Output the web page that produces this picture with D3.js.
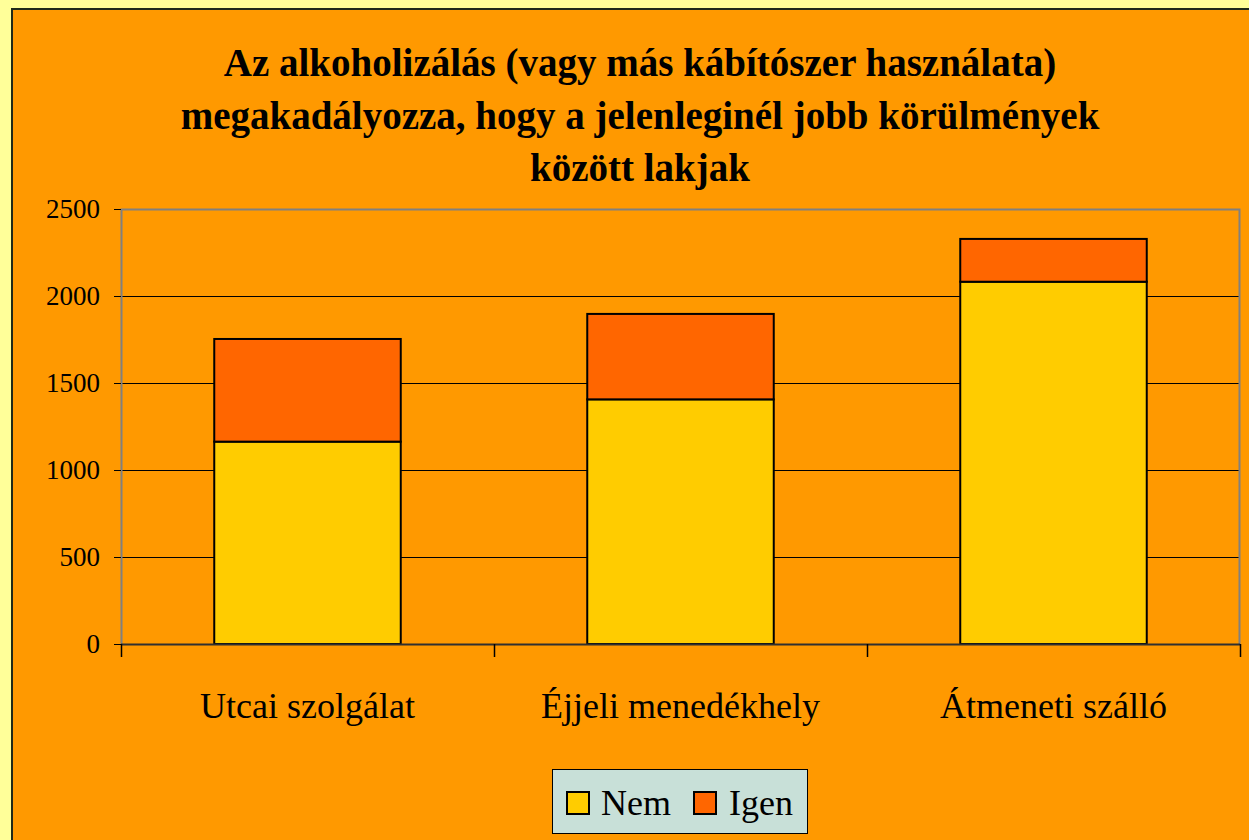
<!DOCTYPE html>
<html>
<head>
<meta charset="utf-8">
<script src="https://cdn.jsdelivr.net/npm/d3@7"></script>
<style>
html,body{margin:0;padding:0;background:#FFFF99;}
svg{display:block;}
</style>
</head>
<body>
<svg id="chart" width="1249" height="840"></svg>
<script>
const titleLines = [
  "Az alkoholizálás (vagy más kábítószer használata)",
  "megakadályozza, hogy a jelenleginél jobb körülmények",
  "között lakjak"
];
const categories = ["Utcai szolgálat", "Éjjeli menedékhely", "Átmeneti szálló"];
const seriesNames = ["Nem", "Igen"];
const nemValues = [1163, 1406, 2082];
const igenValues = [590, 491, 246];
const yTicks = [0, 500, 1000, 1500, 2000, 2500];
const colors = {"Nem": "#FFCC00", "Igen": "#FF6600"};

const svg = d3.select("#chart");
const W = 1249, H = 840;

// background panel
svg.append("rect").attr("x", 0).attr("y", 0).attr("width", W).attr("height", H).attr("fill", "#FFFF99");
svg.append("rect").attr("x", 12).attr("y", 9).attr("width", W + 20).attr("height", H + 20)
  .attr("fill", "#FF9900").attr("stroke", "#1f2a1a").attr("stroke-width", 2);

// title
const serif = "'Liberation Serif','Times New Roman',serif";
const titleY = [76, 129, 181];
svg.append("g").selectAll("text").data(titleLines).join("text")
  .attr("x", 640).attr("y", (d, i) => titleY[i])
  .attr("text-anchor", "middle")
  .attr("font-family", serif).attr("font-weight", "bold").attr("font-size", 39)
  .attr("fill", "#000").text(d => d);

const plot = {left: 121, right: 1240, top: 209, bottom: 644};
const x = d3.scaleBand().domain(categories).range([plot.left, plot.right]).paddingInner(0.5).paddingOuter(0.25);
const y = d3.scaleLinear().domain([0, 2500]).range([plot.bottom, plot.top]);

// gridlines
svg.append("g").selectAll("line").data(yTicks.filter(t => t > 0 && t < 2500)).join("line")
  .attr("x1", plot.left).attr("x2", plot.right)
  .attr("y1", d => Math.round(y(d)) + 0.5).attr("y2", d => Math.round(y(d)) + 0.5)
  .attr("stroke", "#000").attr("stroke-width", 1);

// plot border (gray)
svg.append("path")
  .attr("d", `M${plot.left + 0.5},${plot.bottom}V${plot.top + 0.5}H${plot.right - 0.5}V${plot.bottom}`)
  .attr("fill", "none").attr("stroke", "#808080").attr("stroke-width", 2);

// stacked bars
const rows = categories.map((c, i) => ({cat: c, Nem: nemValues[i], Igen: igenValues[i]}));
const stack = d3.stack().keys(seriesNames)(rows);
svg.append("g").selectAll("g").data(stack).join("g")
  .attr("fill", d => colors[d.key])
  .selectAll("rect").data(d => d).join("rect")
  .attr("x", d => x(d.data.cat))
  .attr("width", x.bandwidth())
  .attr("y", d => y(d[1]))
  .attr("height", d => y(d[0]) - y(d[1]))
  .attr("stroke", "#000").attr("stroke-width", 2);

// y axis
const yAxis = d3.axisLeft(y).tickValues(yTicks).tickSize(7).tickPadding(14).tickFormat(d3.format("d"));
const ya = svg.append("g").attr("transform", `translate(${plot.left},0)`).call(yAxis);
ya.select(".domain").remove();
ya.selectAll("line").attr("stroke", "#000");
ya.selectAll("text").attr("font-family", serif).attr("font-size", 27).attr("fill", "#000");

// x axis
const xAxis = d3.axisBottom(x).tickSize(0).tickPadding(0);
const xa = svg.append("g").attr("transform", `translate(0,${plot.bottom})`).call(xAxis);
xa.select(".domain").attr("d", `M${plot.left},0.5H${plot.right}`).attr("stroke", "#303030").attr("stroke-width", 2);
xa.selectAll("text").attr("font-family", serif).attr("font-size", 36).attr("fill", "#000").attr("dy", 0).attr("y", 74);
// boundary ticks between categories
const step = x.step();
const bounds = d3.range(categories.length + 1).map(i => plot.left + (plot.right - plot.left) * i / categories.length);
xa.append("g").selectAll("line").data(bounds).join("line")
  .attr("x1", d => Math.round(d) + 0.5).attr("x2", d => Math.round(d) + 0.5)
  .attr("y1", 0).attr("y2", 13).attr("stroke", "#000").attr("stroke-width", 1.5);

// legend
const lg = svg.append("g");
lg.append("rect").attr("x", 552.5).attr("y", 769.5).attr("width", 255).attr("height", 64)
  .attr("fill", "#C8E0D8").attr("stroke", "#000").attr("stroke-width", 1);
const legendItems = [{name: "Nem", sx: 567, tx: 601}, {name: "Igen", sx: 694, tx: 729}];
legendItems.forEach(it => {
  lg.append("rect").attr("x", it.sx).attr("y", 792).attr("width", 22).attr("height", 22)
    .attr("fill", colors[it.name]).attr("stroke", "#000").attr("stroke-width", 2);
  lg.append("text").attr("x", it.tx).attr("y", 815)
    .attr("font-family", serif).attr("font-size", 36).attr("fill", "#000").text(it.name);
});
</script>
</body>
</html>
